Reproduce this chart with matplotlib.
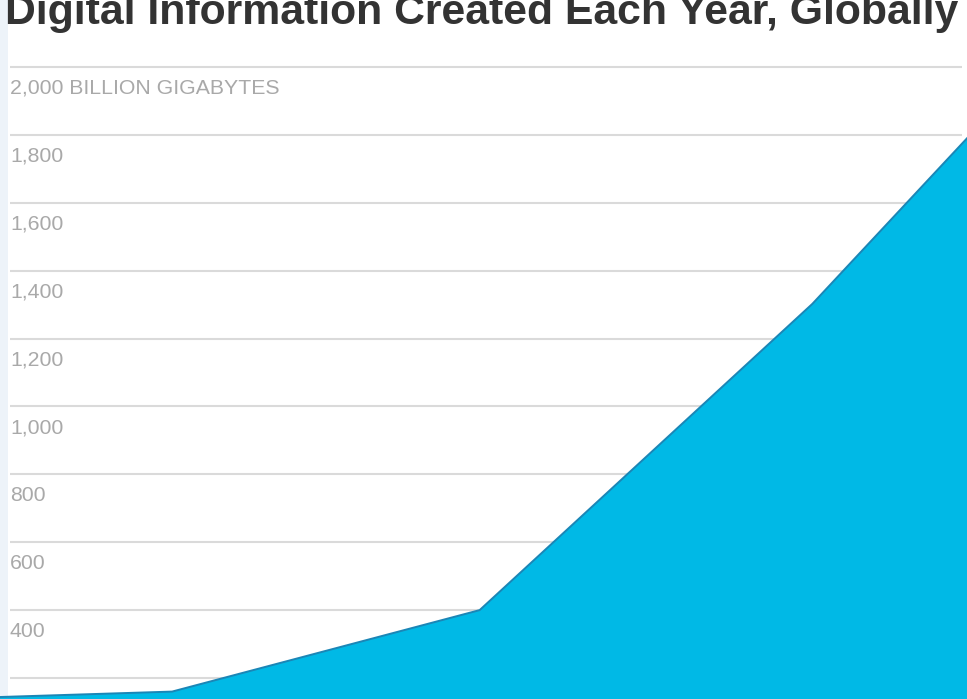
import matplotlib
matplotlib.use("Agg")
import matplotlib.pyplot as plt
from matplotlib import font_manager
from matplotlib.patches import Rectangle

# yearly volume of new digital data, billions of gigabytes
positions = [0.0, 0.178, 0.496, 0.84, 1.0]
volumes = [144, 160, 400, 1302, 1790]

grid_values = [200, 400, 600, 800, 1000, 1200, 1400, 1600, 1800, 2000]
grid_labels = ["", "400", "600", "800", "1,000", "1,200", "1,400", "1,600", "1,800",
               "2,000 BILLION GIGABYTES"]

title = "Digital Information Created Each Year, Globally"

W, H = 967, 699
DPI = 100

names = {f.name for f in font_manager.fontManager.ttflist}
narrow = "Liberation Sans Narrow" in names
label_font = "Liberation Sans Narrow" if narrow else "Liberation Sans"
label_size = 16.5 if narrow else 15.3
title_font = "Liberation Sans"

fig = plt.figure(figsize=(W / DPI, H / DPI), dpi=DPI)
fig.patch.set_facecolor("white")
ax = fig.add_axes([0, 0, 1, 1])
ax.set_axis_off()

# pixel scale: 2,000 line at y=67px, 200 line at y=678px
px_per_unit = (678 - 67) / 1800
zero_px = 678 + 200 * px_per_unit
ymin = (zero_px - H) / px_per_unit
ymax = zero_px / px_per_unit
ax.set_xlim(0, 1)
ax.set_ylim(ymin, ymax)

# pale strip down the left edge
ax.add_patch(Rectangle((0, 0), 8 / W, 1, transform=ax.transAxes,
                       facecolor="#edf3f9", edgecolor="none", zorder=0))

x0, x1 = 10 / W, 962 / W
for v, lab in zip(grid_values, grid_labels):
    ax.plot([x0, x1], [v, v], color="#dadada", lw=1.5, zorder=1,
            solid_capstyle="butt")
    if lab:
        ax.text(10 / W, v - 12 / px_per_unit, lab, fontsize=label_size, color="#a9a9a9",
                family=label_font, ha="left", va="top", zorder=2)

ax.fill_between(positions, volumes, 0, color="#00b9e6", lw=0, zorder=3)
ax.plot(positions, volumes, color="#1b86b6", lw=1.4, zorder=4)

# title, sized to span the width, partly cut by the top edge
t = fig.text(5 / W, 1 - 24 / H, title, fontsize=30, fontweight="bold",
             color="#333333", family=title_font, ha="left", va="baseline")
fig.canvas.draw()
w = t.get_window_extent(fig.canvas.get_renderer()).width
t.set_fontsize(30 * 955 / w)

fig.savefig("out.png", dpi=DPI)
